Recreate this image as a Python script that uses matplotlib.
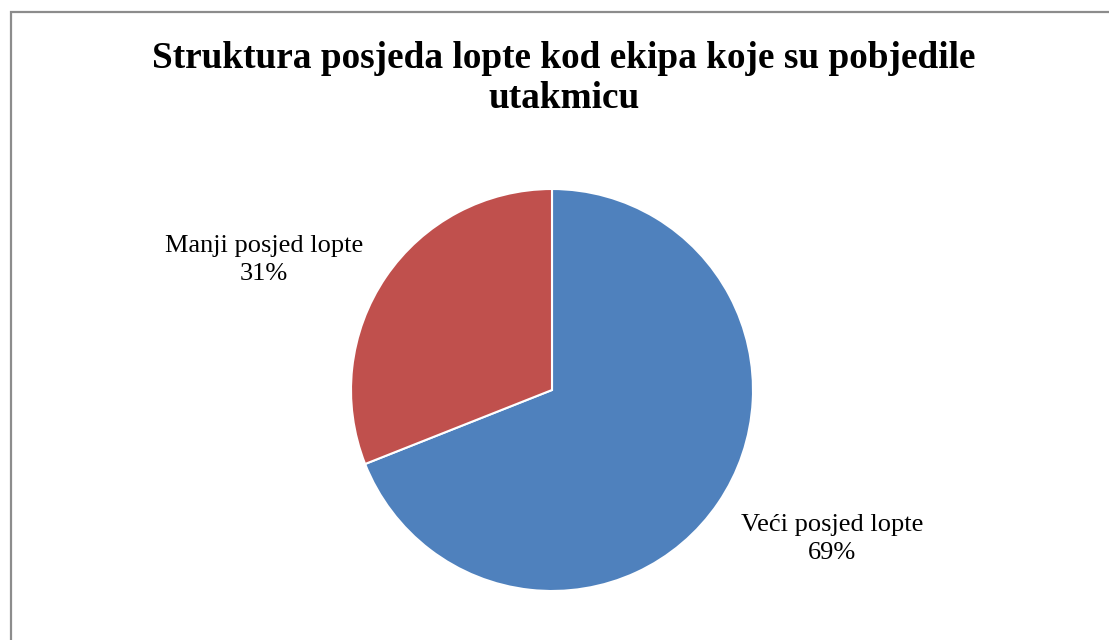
import matplotlib
matplotlib.use("Agg")
import matplotlib.pyplot as plt
from matplotlib.patches import Rectangle

# data
labels = ["Veći posjed lopte", "Manji posjed lopte"]
shares = [69, 31]
colors = ["#4F81BD", "#C0504D"]
title_lines = ["Struktura posjeda lopte kod ekipa koje su pobjedile", "utakmicu"]

W, H = 1109, 640
fig = plt.figure(figsize=(W / 100, H / 100), dpi=100)
fig.patch.set_facecolor("white")

# grey frame round the chart area (right and bottom run off the picture)
fig.patches.append(Rectangle((11 / W, -0.05), 1.2, (H - 12) / H + 0.05,
                             transform=fig.transFigure, fill=False,
                             edgecolor="#8c8c8c", linewidth=1.6))

serif = ["Liberation Serif", "DejaVu Serif"]

# title, two lines
fig.text(564 / W, 1 - 68 / H, title_lines[0], ha="center", va="baseline",
         fontsize=26.8, fontweight="bold", family=serif)
fig.text(564 / W, 1 - 108 / H, title_lines[1], ha="center", va="baseline",
         fontsize=26.8, fontweight="bold", family=serif)

# pie: centre (552, 390), radius ~201 px
r = 201
ax = fig.add_axes([(552 - r) / W, (H - 390 - r) / H, 2 * r / W, 2 * r / H])
wedges, _ = ax.pie(shares, colors=colors, startangle=90, counterclock=False,
                   wedgeprops=dict(edgecolor="white", linewidth=1.5))
ax.set_xlim(-1, 1)
ax.set_ylim(-1, 1)
ax.set_axis_off()

# data labels
def px(x, y):
    return ((x - 552) / r, (390 - y) / r)

for (lx, ly), name, val in [((832, 539), labels[0], shares[0]),
                            ((264, 260), labels[1], shares[1])]:
    x, y = px(lx, ly)
    ax.text(x, y, f"{name}\n{val}%", ha="center", va="center",
            fontsize=19, family=serif, linespacing=1.35, clip_on=False)

fig.savefig("out.png", dpi=100, facecolor="white")
